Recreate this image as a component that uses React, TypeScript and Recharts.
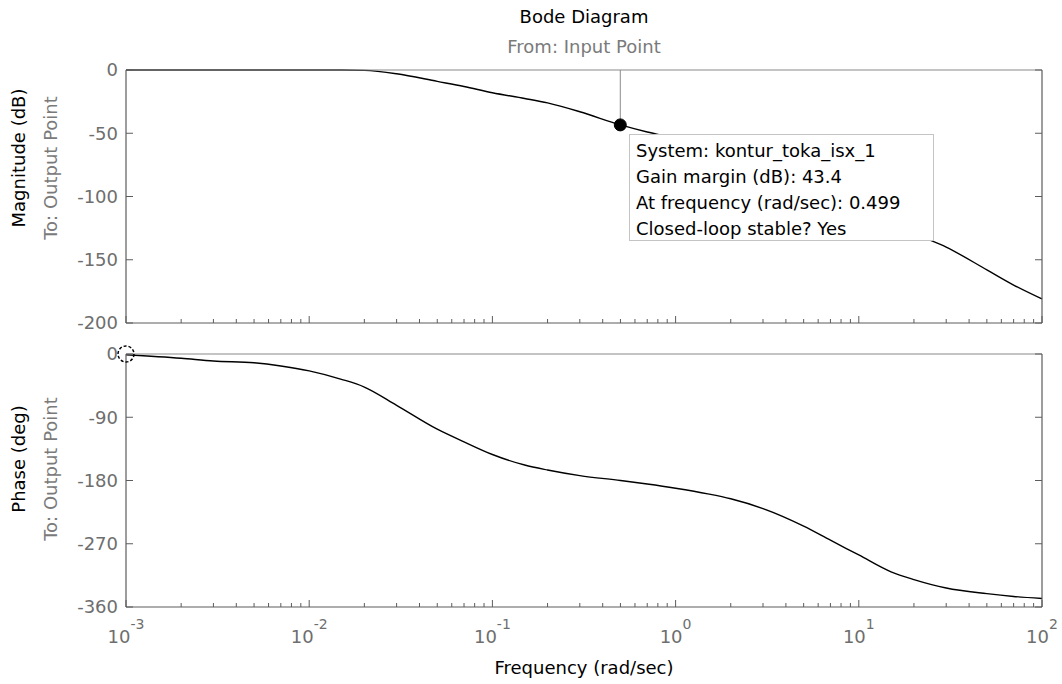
import { Line, LineChart, ReferenceDot, ReferenceLine, XAxis, YAxis } from "recharts";

// frequency grid (rad/sec) and the readings taken from the plot
const freq = [
  0.001, 0.002, 0.003, 0.005, 0.007, 0.01, 0.015, 0.02, 0.03, 0.05, 0.07, 0.1, 0.15, 0.2, 0.3,
  0.5, 0.7, 1, 1.5, 2, 3, 5, 7, 10, 15, 20, 30, 50, 70, 100,
];
const magnitude = [
  0, 0, 0, 0, 0, 0, 0, -0.3, -3, -9, -13, -18, -22.5, -26, -33,
  -43.4, -49, -54, -61, -66, -73, -84, -93, -105, -119, -129, -140, -158, -170, -181,
];
const phase = [
  -1, -6, -10, -12.5, -17, -24, -36, -47, -73, -107, -125, -143, -158, -165, -173,
  -180, -185, -191, -199, -206, -220, -245, -265, -286, -310, -321, -333, -341, -345, -348,
];

const decadeTicks = [0.001, 0.01, 0.1, 1, 10, 100];
const decadeExponents = ["-3", "-2", "-1", "0", "1", "2"];
const minorSteps = [2, 3, 4, 5, 6, 7, 8, 9];
const magTicks = [-200, -150, -100, -50, 0];
const phaseTicks = [-360, -270, -180, -90, 0];

const gmFreq = 0.499;
const gmMag = -43.4;
const tipLines = [
  "System: kontur_toka_isx_1",
  "Gain margin (dB): 43.4",
  "At frequency (rad/sec): 0.499",
  "Closed-loop stable? Yes",
];

const rows = freq.map((f, i) => ({ f, mag: magnitude[i], phase: phase[i] }));
const freqTicks = decadeTicks.flatMap((d) =>
  d >= 100 ? [d] : [d, ...minorSteps.map((k) => Number((k * d).toPrecision(3)))]
);

const FONT = "'DejaVu Sans', Verdana, sans-serif";
const AXIS = "#5c5c5c";
const TICK_TEXT = "#6e6e6e";
const SUB_TEXT = "#7a7a7a";

function FreqTick(props: any) {
  const { x, y, payload, dir, showLabel } = props;
  const idx = decadeTicks.findIndex((d) => Math.abs(d - payload.value) < d * 1e-6);
  const major = idx >= 0;
  const len = major ? 7 : 4;
  return (
    <g>
      <line x1={x} x2={x} y1={y} y2={y + dir * len} stroke={AXIS} strokeWidth={1} />
      {showLabel && major && (
        <text x={x} y={y + 36} textAnchor="middle" fill={TICK_TEXT} fontSize={18} fontFamily={FONT}>
          10
          <tspan dy={-14} fontSize={14}>
            {decadeExponents[idx]}
          </tspan>
        </text>
      )}
    </g>
  );
}

function ValTick(props: any) {
  const { x, y, payload, dir, showLabel } = props;
  return (
    <g>
      <line x1={x} x2={x + dir * 7} y1={y} y2={y} stroke={AXIS} strokeWidth={1} />
      {showLabel && (
        <text x={x - 8} y={y} dy="0.36em" textAnchor="end" fill={TICK_TEXT} fontSize={18} fontFamily={FONT}>
          {payload.value}
        </text>
      )}
    </g>
  );
}

function BodePanel(props: {
  top: number;
  height: number;
  topSpace: number;
  bottomSpace: number;
  dataKey: string;
  yDomain: number[];
  yTicks: number[];
  showFreqLabels: boolean;
  children?: any;
}) {
  const { top, height, topSpace, bottomSpace, dataKey, yDomain, yTicks, showFreqLabels, children } = props;
  const xCommon = {
    type: "number" as const,
    scale: "log" as const,
    domain: [0.001, 100],
    ticks: freqTicks,
    interval: 0,
    tickSize: 0,
    tickMargin: 0,
    tickLine: false,
    axisLine: { stroke: AXIS, strokeWidth: 1.2 },
  };
  const yCommon = {
    type: "number" as const,
    domain: yDomain,
    ticks: yTicks,
    interval: 0,
    tickSize: 0,
    tickMargin: 0,
    tickLine: false,
    axisLine: { stroke: AXIS, strokeWidth: 1.2 },
  };
  return (
    <div style={{ position: "absolute", left: 0, top }}>
      <LineChart width={1062} height={height} data={rows} margin={{ top: 0, right: 0, bottom: 0, left: 0 }}>
        <XAxis
          xAxisId="b"
          dataKey="f"
          {...xCommon}
          height={bottomSpace}
          tick={(p: any) => <FreqTick {...p} dir={-1} showLabel={showFreqLabels} />}
        />
        <XAxis
          xAxisId="t"
          orientation="top"
          {...xCommon}
          allowDataOverflow
          height={topSpace}
          axisLine={{ stroke: "#8a8a8a", strokeWidth: 1.2 }}
          tick={(p: any) => <FreqTick {...p} dir={1} showLabel={false} />}
        />
        <YAxis
          yAxisId="l"
          {...yCommon}
          width={126}
          tick={(p: any) => <ValTick {...p} dir={1} showLabel />}
        />
        <YAxis
          yAxisId="r"
          orientation="right"
          {...yCommon}
          allowDataOverflow
          width={20}
          tick={(p: any) => <ValTick {...p} dir={-1} showLabel={false} />}
        />
        {children}
        <Line
          xAxisId="b"
          yAxisId="l"
          type="monotone"
          dataKey={dataKey}
          stroke="#000"
          strokeWidth={1.4}
          dot={false}
          isAnimationActive={false}
        />
      </LineChart>
    </div>
  );
}

export default function App() {
  return (
    <div
      style={{
        position: "absolute",
        left: 0,
        top: 0,
        width: 1062,
        height: 684,
        background: "#fff",
        fontFamily: FONT,
        overflow: "hidden",
      }}
    >
      <BodePanel
        top={0}
        height={340}
        topSpace={70}
        bottomSpace={17}
        dataKey="mag"
        yDomain={[-200, 0]}
        yTicks={magTicks}
        showFreqLabels={false}
      >
        <ReferenceLine
          xAxisId="b"
          yAxisId="l"
          segment={[
            { x: gmFreq, y: gmMag },
            { x: gmFreq, y: 0 },
          ]}
          stroke="#8c8c8c"
          strokeWidth={1}
        />
        <ReferenceDot xAxisId="b" yAxisId="l" x={gmFreq} y={gmMag} r={6} fill="#000" stroke="#000" />
      </BodePanel>

      <BodePanel
        top={330}
        height={354}
        topSpace={24}
        bottomSpace={77}
        dataKey="phase"
        yDomain={[-360, 0]}
        yTicks={phaseTicks}
        showFreqLabels
      >
        <ReferenceDot
          xAxisId="b"
          yAxisId="l"
          x={0.001}
          y={0}
          r={8}
          fill="none"
          stroke="#000"
          strokeWidth={1.5}
          strokeDasharray="3 2"
          ifOverflow="visible"
        />
      </BodePanel>

      {/* gain margin data tip */}
      <div
        style={{
          position: "absolute",
          left: 629,
          top: 134,
          width: 305,
          height: 107,
          boxSizing: "border-box",
          border: "1px solid #c4c4c4",
          background: "#fff",
          padding: "3px 0 0 6px",
          fontSize: 18,
          lineHeight: "26px",
          color: "#000",
          whiteSpace: "nowrap",
        }}
      >
        {tipLines.map((t) => (
          <div key={t}>{t}</div>
        ))}
      </div>

      {/* titles */}
      <div style={{ position: "absolute", left: 584, top: 6, transform: "translateX(-50%)", fontSize: 18, lineHeight: "22px", whiteSpace: "nowrap", color: "#000" }}>
        Bode Diagram
      </div>
      <div style={{ position: "absolute", left: 584, top: 36, transform: "translateX(-50%)", fontSize: 18, lineHeight: "22px", whiteSpace: "nowrap", color: SUB_TEXT }}>
        From: Input Point
      </div>
      <div style={{ position: "absolute", left: 584, top: 657, transform: "translateX(-50%)", fontSize: 18, lineHeight: "22px", whiteSpace: "nowrap", color: "#000" }}>
        Frequency (rad/sec)
      </div>

      {/* y labels */}
      {[
        { text: "Magnitude (dB)", x: 19, y: 158, color: "#000" },
        { text: "To: Output Point", x: 51, y: 168, color: SUB_TEXT },
        { text: "Phase (deg)", x: 19, y: 459, color: "#000" },
        { text: "To: Output Point", x: 51, y: 469, color: SUB_TEXT },
      ].map((l, i) => (
        <div
          key={i}
          style={{
            position: "absolute",
            left: l.x,
            top: l.y,
            transform: "translate(-50%, -50%) rotate(-90deg)",
            fontSize: 18,
            lineHeight: "22px",
            whiteSpace: "nowrap",
            color: l.color,
          }}
        >
          {l.text}
        </div>
      ))}
    </div>
  );
}
